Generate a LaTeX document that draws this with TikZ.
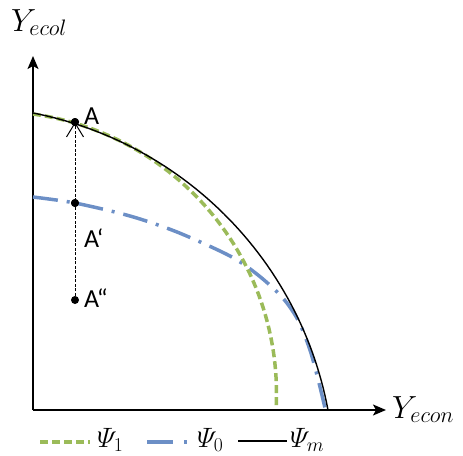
\RequirePackage{fix-cm}
\documentclass[tikz,border=0pt]{standalone}
\usepackage{amsmath}
\usepackage[no-math]{fontspec}
\newfontfamily\calib{Carlito}
\usepackage{tikz}
\usetikzlibrary{arrows.meta}
\definecolor{psigreen}{RGB}{155,187,89}
\definecolor{psiblue}{RGB}{108,143,198}

\begin{document}
\begin{tikzpicture}[x=1pt,y=-1pt,
  axis/.style={line width=1.5pt,-{Stealth[length=13pt,width=11pt,inset=3pt]}},
  pt/.style={circle,fill=black,inner sep=0pt,minimum size=8pt},
  lbl/.style={anchor=base west,inner sep=0pt,font=\calib\fontsize{26}{28}\selectfont},
  mlbl/.style={anchor=base west,inner sep=0pt,font=\fontsize{32}{34}\selectfont},
  leg/.style={anchor=base west,inner sep=0pt,font=\fontsize{28}{30}\selectfont},
  psione/.style={psigreen,line width=3.5pt,dash pattern=on 8pt off 4pt},
  psizero/.style={psiblue,line width=3.5pt,dash pattern=on 25pt off 9pt on 3pt off 9pt},
  psim/.style={black,line width=1.4pt}]
\useasboundingbox (0,0) rectangle (463,455);
% axes
\coordinate (O) at (33,410);
\coordinate (ytip) at (33,56);
\coordinate (xtip) at (386,410);
\draw[axis] (O) -- (ytip);
\draw[axis] (O) -- (xtip);
\node[mlbl] (ylab) at (11,31) {$Y_{ecol}$};
\node[mlbl] (xlab) at (392,418) {$Y_{econ}$};
% frontiers
\draw[psizero] plot[smooth] coordinates {(33,197) (75,203) (130,216) (177,232) (230,256) (258,275) (282,297) (298,320) (310,350) (319,383) (325,408)};
\draw[psione] plot[domain=-82.15:2.4,samples=60,variable=\t] ({-5.5+282*cos(\t)},{393.4+282*sin(\t)});
\draw[psim] plot[domain=-79:-10.6,samples=60,variable=\t] ({-38.2+372.6*cos(\t)},{478.7+372.6*sin(\t)});
% points
\node[pt] (A) at (75,122) {};
\node[pt] (Ap) at (75,203) {};
\node[pt] (App) at (75,300) {};
\draw[line width=1pt,dash pattern=on 3pt off 1.5pt,-{Straight Barb[length=14pt,width=17pt,line width=1pt]}] (App.center) -- (A.center);
\node[pt] at (A) {};
\node[pt] at (Ap) {};
\node[lbl] (Alab) at (84,124) {A};
\node[lbl] (Aplab) at (84,247) {A‘};
\node[lbl] (Applab) at (84,307) {A“};
% legend
\draw[psione] (40,442) -- (90,442);
\node[leg] (l1) at (97,447) {$\varPsi_1$};
\draw[psiblue,line width=3.5pt] (147,442) -- (173,442);
\draw[psiblue,line width=3.5pt] (184,442) -- (187,442);
\node[leg] (l0) at (197,447) {$\varPsi_0$};
\draw[psim] (238,441) -- (287,441);
\node[leg] (lm) at (290,447) {$\varPsi_m$};
\end{tikzpicture}
\end{document}
